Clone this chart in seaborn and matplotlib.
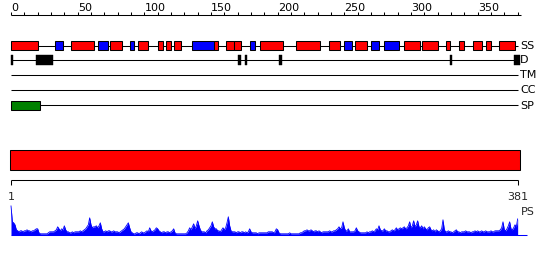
import numpy as np
import pandas as pd
import matplotlib
matplotlib.use("Agg")
import matplotlib.pyplot as plt
import seaborn as sns

# ---------------- data ----------------
seq_len = 381

# secondary structure elements (H = helix, E = strand), positions on the top ruler
ss_start = [0, 33, 45, 65.5, 74.5, 89, 95, 110.5, 116.5, 122, 136, 152, 161.5, 167.5,
            179.5, 187, 214, 238.8, 250, 258, 270, 280, 295, 308.5, 326, 336, 346.5,
            356.5, 366]
ss_end = [20.5, 39, 62.5, 72.5, 83.5, 92.5, 102.5, 113.8, 120, 127.5, 152, 155, 167.3,
          172.3, 182.8, 204, 232, 247, 256, 267, 276, 291, 307, 320, 329.5, 339.5,
          353.5, 360.3, 378]
ss_type = ["H", "E", "H", "E", "H", "E", "H", "H", "H", "H", "E", "H", "H", "H",
           "E", "H", "H", "H", "E", "H", "E", "E", "H", "H", "H", "H", "H", "H", "H"]

# disordered regions
dis_start = [0, 19, 170.5, 175.5, 201, 329, 377]
dis_end = [1.3, 31.5, 172.3, 177, 203, 330.5, 381.5]

# signal peptide
sp_start = [0]
sp_end = [22]

# domain bar
dom_start = [-0.75]
dom_end = [381.75]

row_names = ["SS", "D", "TM", "CC", "SP"]

top_ticks = list(range(0, 381, 10))
top_labels = list(range(0, 351, 50))
bottom_labels = ["1", "381"]

# per-residue profile (PS)
ps_values = [
    29, 13, 12, 10, 5, 4, 3, 4, 4, 3,
    4, 4, 5, 4, 4, 3, 4, 4, 5, 6,
    6, 2, 1, 1, 1, 1, 1, 1, 2, 3,
    3, 3, 3, 4, 5, 8, 6, 4, 6, 5,
    9, 5, 3, 3, 2, 2, 3, 2, 3, 3,
    3, 3, 4, 3, 4, 5, 6, 8, 10, 17,
    10, 7, 8, 8, 9, 7, 9, 12, 6, 3,
    3, 4, 3, 4, 4, 3, 3, 4, 3, 3,
    3, 2, 3, 4, 5, 6, 8, 10, 12, 7,
    3, 2, 1, 1, 2, 2, 1, 2, 3, 2,
    2, 3, 4, 3, 7, 4, 3, 4, 5, 7,
    6, 4, 3, 2, 3, 3, 2, 3, 3, 2,
    3, 4, 6, 2, 1, 1, 1, 1, 1, 1,
    1, 1, 2, 4, 7, 5, 8, 11, 6, 9,
    14, 9, 5, 3, 3, 3, 2, 4, 5, 7,
    9, 13, 8, 6, 6, 4, 4, 3, 5, 7,
    5, 7, 12, 18, 9, 4, 3, 3, 3, 2,
    3, 3, 2, 3, 3, 2, 3, 2, 3, 6,
    3, 2, 2, 2, 2, 1, 2, 2, 2, 2,
    2, 2, 2, 3, 3, 3, 3, 2, 3, 6,
    5, 2, 1, 1, 1, 1, 1, 1, 1, 2,
    1, 1, 1, 1, 1, 1, 1, 2, 2, 3,
    4, 4, 5, 4, 4, 5, 4, 3, 4, 4,
    3, 4, 3, 2, 3, 3, 3, 3, 3, 4,
    3, 3, 4, 4, 5, 6, 8, 6, 7, 13,
    7, 4, 4, 6, 3, 3, 3, 3, 4, 7,
    4, 3, 2, 2, 2, 2, 2, 3, 2, 3,
    3, 4, 3, 4, 6, 5, 9, 5, 4, 4,
    6, 4, 4, 3, 3, 4, 5, 4, 5, 7,
    5, 6, 7, 6, 7, 8, 6, 7, 9, 13,
    7, 9, 14, 8, 10, 14, 8, 7, 9, 6,
    8, 6, 5, 7, 8, 5, 4, 5, 3, 5,
    4, 3, 4, 6, 15, 5, 3, 3, 4, 3,
    3, 2, 3, 4, 5, 3, 3, 2, 3, 3,
    3, 4, 3, 3, 3, 2, 3, 3, 4, 3,
    4, 3, 3, 4, 3, 3, 4, 3, 3, 3,
    4, 3, 3, 4, 4, 4, 4, 5, 7, 13,
    5, 4, 6, 9, 13, 6, 5, 7, 10, 8,
    16,
]

# ---------------- layout ----------------
W, H, DPI = 550, 260, 100
PX = 1.3333          # pixels per residue
X0 = 11              # pixel x of position 0
ROW_Y = {"SS": 45.5, "D": 60.0, "TM": 75.2, "CC": 90.0, "SP": 105.3}
BOX_H = 9.6
DIS_H = 10.6
TOP_AXIS_Y = 15
DOM_Y0, DOM_Y1 = 150, 170
BOT_AXIS_Y = 180.3
PS_BASE = 234.8
PS_SCALE = 1.0
LW = 0.75
FS = 8

sns.set_theme(style="white")
plt.rcParams['font.family'] = ['DejaVu Sans']

fig = plt.figure(figsize=(W / DPI, H / DPI), dpi=DPI)
ax = fig.add_axes([0, 0, 1, 1])
ax.set_xlim(-X0 / PX, (W - X0) / PX)
ax.set_ylim(H, 0)
ax.axis("off")

# top ruler
ax.hlines(TOP_AXIS_Y, 0, seq_len + 1.5, color="black", lw=LW)
ax.vlines(top_ticks, TOP_AXIS_Y - 3, TOP_AXIS_Y, color="black", lw=LW)
for t in top_labels:
    ax.text(t + 0.2, 10.6, str(t), ha="left", va="baseline", fontsize=FS, color="black")

# feature rows
for name in row_names:
    ax.hlines(ROW_Y[name], 0, seq_len - 0.5, color="black", lw=LW, zorder=1)
    ax.text(seq_len + 0.8, ROW_Y[name] + 0.3, name, ha="left", va="center",
            fontsize=FS, color="black")

ss_df = pd.DataFrame({"start": ss_start, "end": ss_end, "type": ss_type})
ss_colors = ss_df["type"].map({"H": "#ff0000", "E": "#0000ff"})
ax.barh(ROW_Y["SS"], ss_df["end"] - ss_df["start"], left=ss_df["start"], height=BOX_H,
        color=ss_colors, edgecolor="black", linewidth=LW, zorder=3)

dis = np.array(dis_end) - np.array(dis_start)
ax.barh(ROW_Y["D"], dis, left=dis_start, height=DIS_H, color="black",
        edgecolor="black", linewidth=0.3, zorder=3)

ax.barh(ROW_Y["SP"], np.array(sp_end) - np.array(sp_start), left=sp_start, height=BOX_H,
        color="#008000", edgecolor="black", linewidth=LW, zorder=3)

# domain bar
ax.barh((DOM_Y0 + DOM_Y1) / 2, np.array(dom_end) - np.array(dom_start), left=dom_start,
        height=DOM_Y1 - DOM_Y0, color="#ff0000", edgecolor="black", linewidth=LW, zorder=3)

# bottom ruler
ax.hlines(BOT_AXIS_Y, 0, seq_len - 1, color="black", lw=LW)
ax.vlines([0, seq_len - 1], BOT_AXIS_Y, BOT_AXIS_Y + 5, color="black", lw=LW)
ax.text(0, 199.5, bottom_labels[0], ha="center", va="baseline", fontsize=FS)
ax.text(seq_len - 1, 199.5, bottom_labels[1], ha="center", va="baseline", fontsize=FS)
ax.text(seq_len + 1.3, 215, "PS", ha="left", va="baseline", fontsize=FS)

# PS profile
ps = pd.DataFrame({"pos": np.arange(seq_len),
                   "y": PS_BASE - np.array(ps_values) * PS_SCALE})
ax.fill_between(ps["pos"], PS_BASE, ps["y"], color="#0000ff", lw=0, zorder=2)
sns.lineplot(data=ps, x="pos", y="y", ax=ax, color="#0000ff", lw=0.6,
             estimator=None, legend=False, zorder=2)
ax.hlines(PS_BASE, 0, seq_len + 6, color="#0000ff", lw=LW)
ax.set_xlim(-X0 / PX, (W - X0) / PX)
ax.set_ylim(H, 0)
ax.axis("off")

fig.savefig("out.png", dpi=DPI)
